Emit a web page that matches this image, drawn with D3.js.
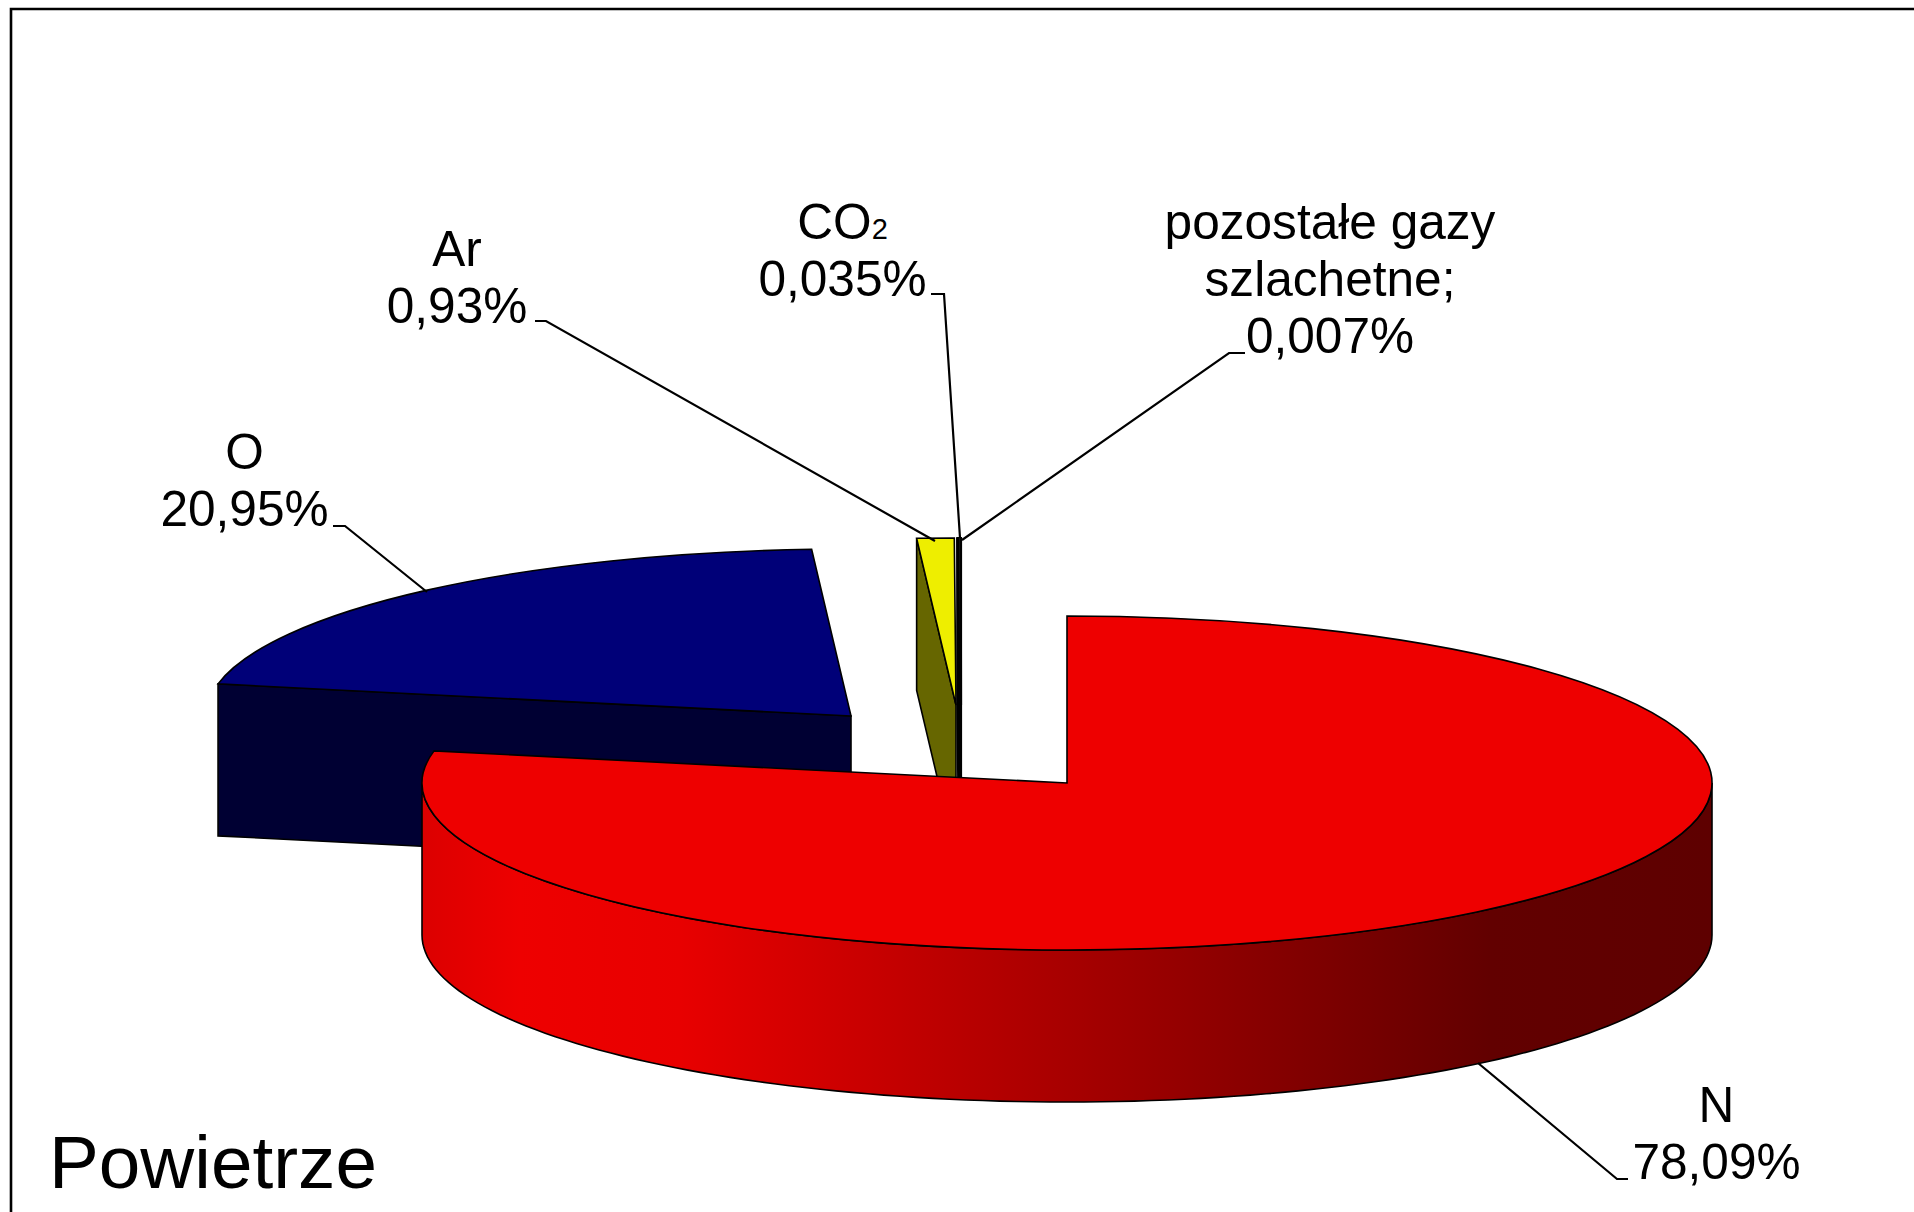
<!DOCTYPE html>
<html>
<head>
<meta charset="utf-8">
<script src="https://cdnjs.cloudflare.com/ajax/libs/d3/7.8.5/d3.min.js"></script>
<style>
  html, body { margin: 0; padding: 0; background: #fff; }
  svg { display: block; }
  text { font-family: "Liberation Sans", Arial, sans-serif; fill: #000; }
</style>
</head>
<body>
<div id="visContainer"></div>
<script>
const gases = ["N", "O", "Ar", "CO2", "pozostałe gazy szlachetne"];
const shares = [78.09, 20.95, 0.93, 0.035, 0.007];
const shareLabels = ["78,09%", "20,95%", "0,93%", "0,035%", "0,007%"];

const width = 1914;
const height = 1212;
const rx = 645;
const ry = 167;
const depth = 152;

// where the centre of each slice ended up after being pulled out of the pie
const centerX = [1067, 851, 956, 959, 961];
const centerY = [783, 716, 705, 705, 705];

const topColor = ["#ee0000", "#000078", "#eeee00", "#003030", "#101010"];
const sideColor = ["url(#rim)", "#000033", "#666600", "#102828", "#101010"];
const outline = [1.6, 1.6, 1.6, 2.2, 2.2];

const labelX = [1716.5, 244.5, 457, 842.5, 1330];
const labelY = [1179, 526, 323, 296, 353];

const leaders = [
    [[1628, 1179], [1617, 1179], [1478, 1063]],
    [[333, 526], [345, 526], [427, 592]],
    [[535, 321], [546, 321], [935, 541]],
    [[931, 294], [944, 294], [960, 538]],
    [[1245, 353], [1229, 353], [962, 540]]
];

const rimStops = [
    [423, "#dc0000"], [520, "#ee0000"], [680, "#e80000"], [918, "#c00000"],
    [1208, "#900000"], [1490, "#620000"], [1713, "#5e0000"]
];

const svg = d3.select("#visContainer").append("svg")
    .attr("width", width)
    .attr("height", height);

const rim = svg.append("defs").append("linearGradient")
    .attr("id", "rim")
    .attr("gradientUnits", "userSpaceOnUse")
    .attr("x1", rimStops[0][0]).attr("x2", rimStops[rimStops.length - 1][0])
    .attr("y1", 0).attr("y2", 0);
const stopScale = d3.scaleLinear()
    .domain([rimStops[0][0], rimStops[rimStops.length - 1][0]])
    .range([0, 1]);
rim.selectAll("stop").data(rimStops).join("stop")
    .attr("offset", d => stopScale(d[0]))
    .attr("stop-color", d => d[1]);

// frame: only left and top sides are on the picture
svg.append("path")
    .attr("d", d3.line()([[11, height], [11, 9], [width, 9]]))
    .attr("fill", "none")
    .attr("stroke", "#000")
    .attr("stroke-width", 2.6);

const slices = d3.pie().sort(null).value(d => d)(shares);
const arc = d3.arc().innerRadius(0).outerRadius(rx);
const line = d3.line();

function rimPoint(i, a, z) {
    return [centerX[i] + rx * Math.sin(a), centerY[i] - ry * Math.cos(a) + z];
}

function sidePoints(i, a0, a1) {
    const n = 120;
    const angles = d3.range(n + 1).map(k => a0 + (a1 - a0) * k / n);
    return angles.map(a => rimPoint(i, a, 0))
        .concat(angles.reverse().map(a => rimPoint(i, a, depth)));
}

// back slices first, nitrogen last because it covers the others
const order = [1, 2, 3, 4, 0];

order.forEach(i => {
    const s = slices[i];
    const g = svg.append("g");

    if (i === 0) {
        const front0 = Math.max(s.startAngle, Math.PI / 2);
        const front1 = Math.min(s.endAngle, Math.PI * 1.5);
        g.append("path")
            .attr("d", line(sidePoints(i, front0, front1)) + "Z")
            .attr("fill", sideColor[i])
            .attr("stroke", "#000")
            .attr("stroke-width", outline[i]);
    } else {
        const c = [centerX[i], centerY[i]];
        const p = rimPoint(i, s.startAngle, 0);
        const face = [c, p, [p[0], p[1] + depth], [c[0], c[1] + depth]];
        g.append("path")
            .attr("d", line(face) + "Z")
            .attr("fill", sideColor[i])
            .attr("stroke", "#000")
            .attr("stroke-width", outline[i]);
    }

    g.append("path")
        .attr("transform", `translate(${centerX[i]},${centerY[i]}) scale(1,${ry / rx})`)
        .attr("d", arc(s))
        .attr("fill", topColor[i])
        .attr("stroke", "#000")
        .attr("stroke-width", outline[i])
        .attr("vector-effect", "non-scaling-stroke");
});

svg.append("g").selectAll("path")
    .data(leaders)
    .join("path")
    .attr("d", d => line(d))
    .attr("fill", "none")
    .attr("stroke", "#000")
    .attr("stroke-width", 2.2);

// two or three lines of text, the last one sits on labelY
const lineStep = 57;
const labelLines = [
    [gases[0], shareLabels[0]],
    [gases[1], shareLabels[1]],
    [gases[2], shareLabels[2]],
    ["CO", shareLabels[3]],
    ["pozostałe gazy", "szlachetne;", shareLabels[4]]
];

const labels = svg.append("g")
    .attr("font-size", 49.6)
    .attr("text-anchor", "middle");

labelLines.forEach((lines, i) => {
    const t = labels.append("text")
        .attr("x", labelX[i])
        .attr("y", labelY[i] - (lines.length - 1) * lineStep);
    lines.forEach((l, k) => {
        t.append("tspan")
            .attr("x", labelX[i])
            .attr("dy", k === 0 ? 0 : lineStep)
            .text(l);
        if (l === "CO") {
            t.append("tspan").attr("font-size", 29).text("2");
        }
    });
});

svg.append("text")
    .attr("x", 49)
    .attr("y", 1188)
    .attr("font-size", 74.7)
    .text("Powietrze");
</script>
</body>
</html>
